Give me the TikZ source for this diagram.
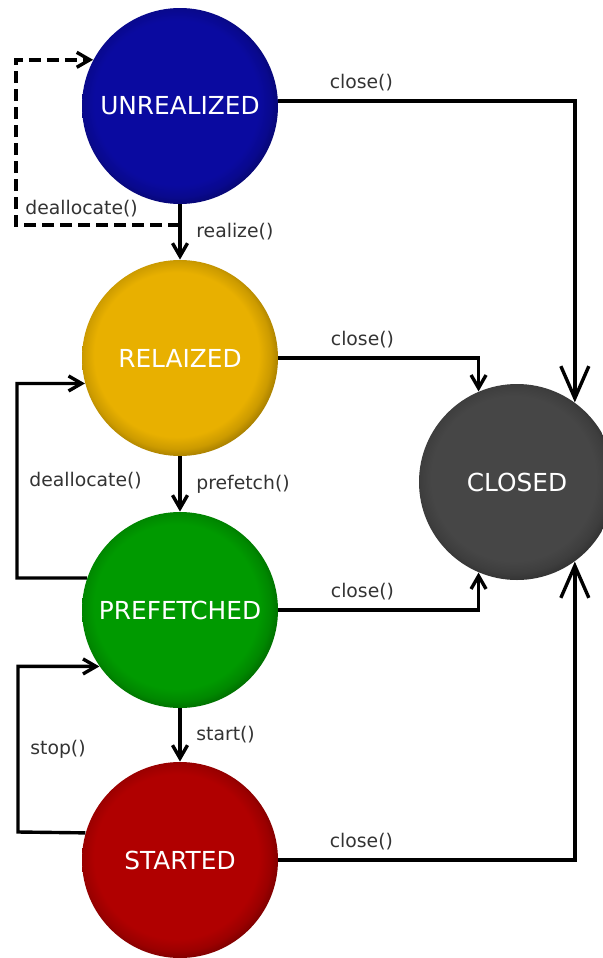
\documentclass[tikz,border=0pt]{standalone}
\usepackage{fontspec}
\setmainfont{DejaVu Sans}
\usetikzlibrary{arrows.meta}

\definecolor{unrealblue}{HTML}{0A0AA0}
\definecolor{realamber}{HTML}{E8B000}
\definecolor{prefgreen}{HTML}{009A00}
\definecolor{startred}{HTML}{B00000}
\definecolor{closedgray}{HTML}{464646}
\definecolor{labelgray}{HTML}{333333}
\colorlet{ballcol}{closedgray}

% ball with a darker rim
\pgfdeclareradialshading[ballcol]{ball}{\pgfpoint{-1.5bp}{1.5bp}}{%
  color(0bp)=(ballcol); color(21bp)=(ballcol);
  color(24bp)=(ballcol!88!black); color(26bp)=(ballcol!72!black);
  color(50bp)=(ballcol!72!black)}

\tikzset{
  state/.style={circle, minimum size=98pt, inner sep=0pt, shading=ball,
    text=white, font=\fontsize{12.4}{14}\selectfont},
  ball color/.code={\colorlet{ballcol}{#1}},
  flow/.style={draw=black, line width=1.7pt,
    -{Straight Barb[length=6.5pt,width=7.5pt]}},
  bigflow/.style={flow, -{Straight Barb[length=16pt,width=14pt]}},
  lbl/.style={text=labelgray, font=\fontsize{9.4}{11}\selectfont}
}

\begin{document}
\begin{tikzpicture}[x=0.5pt, y=-0.5pt]
	\useasboundingbox (0,0) rectangle (603,958);

	% Define the states
	\node[state, ball color=unrealblue] (unreal) at (180,106) {UNREALIZED};
	\node[state, ball color=realamber] (real) at (180,358) {RELAIZED};
	\node[state, ball color=prefgreen] (pref) at (180,610) {PREFETCHED};
	\node[state, ball color=startred] (start) at (180,860) {STARTED};
	\node[state, ball color=closedgray] (closed) at (517,482) {CLOSED};

	% Corners of the loops on the left
	\coordinate (dj) at (180,225);
	\coordinate (dl) at (16,225);
	\coordinate (pl) at (17,578);
	\coordinate (sl) at (18,832);

	% Draw the transitions with labels
	\draw[flow] (unreal) -- node[lbl, right=4pt] {realize()} (real);
	\draw[flow] (real) -- node[lbl, right=4pt] {prefetch()} (pref);
	\draw[flow] (pref) -- node[lbl, right=4pt] {start()} (start);
	\draw[flow, dash pattern=on 6pt off 3pt] (dj) -- node[lbl, pos=0.6, above=0pt] {deallocate()} (dl) |- (unreal.152);
	\draw[flow] (pref.161) -- (pl) |- node[lbl, pos=0.25, right=2pt] {deallocate()} (real.195);
	\draw[flow] (start.164) -- (sl) |- node[lbl, pos=0.25, right=2pt] {stop()} (pref.215);
	\draw[bigflow] (unreal.3) -| node[lbl, pos=0.14, above=1pt] {close()} (closed.54);
	\draw[flow] (real.east) -| node[lbl, pos=0.21, above=1pt] {close()} (closed.113);
	\draw[flow] (pref.east) -| node[lbl, pos=0.21, above=1pt] {close()} (closed.247);
	\draw[bigflow] (start.east) -| node[lbl, pos=0.14, above=1pt] {close()} (closed.306);
\end{tikzpicture}
\end{document}
